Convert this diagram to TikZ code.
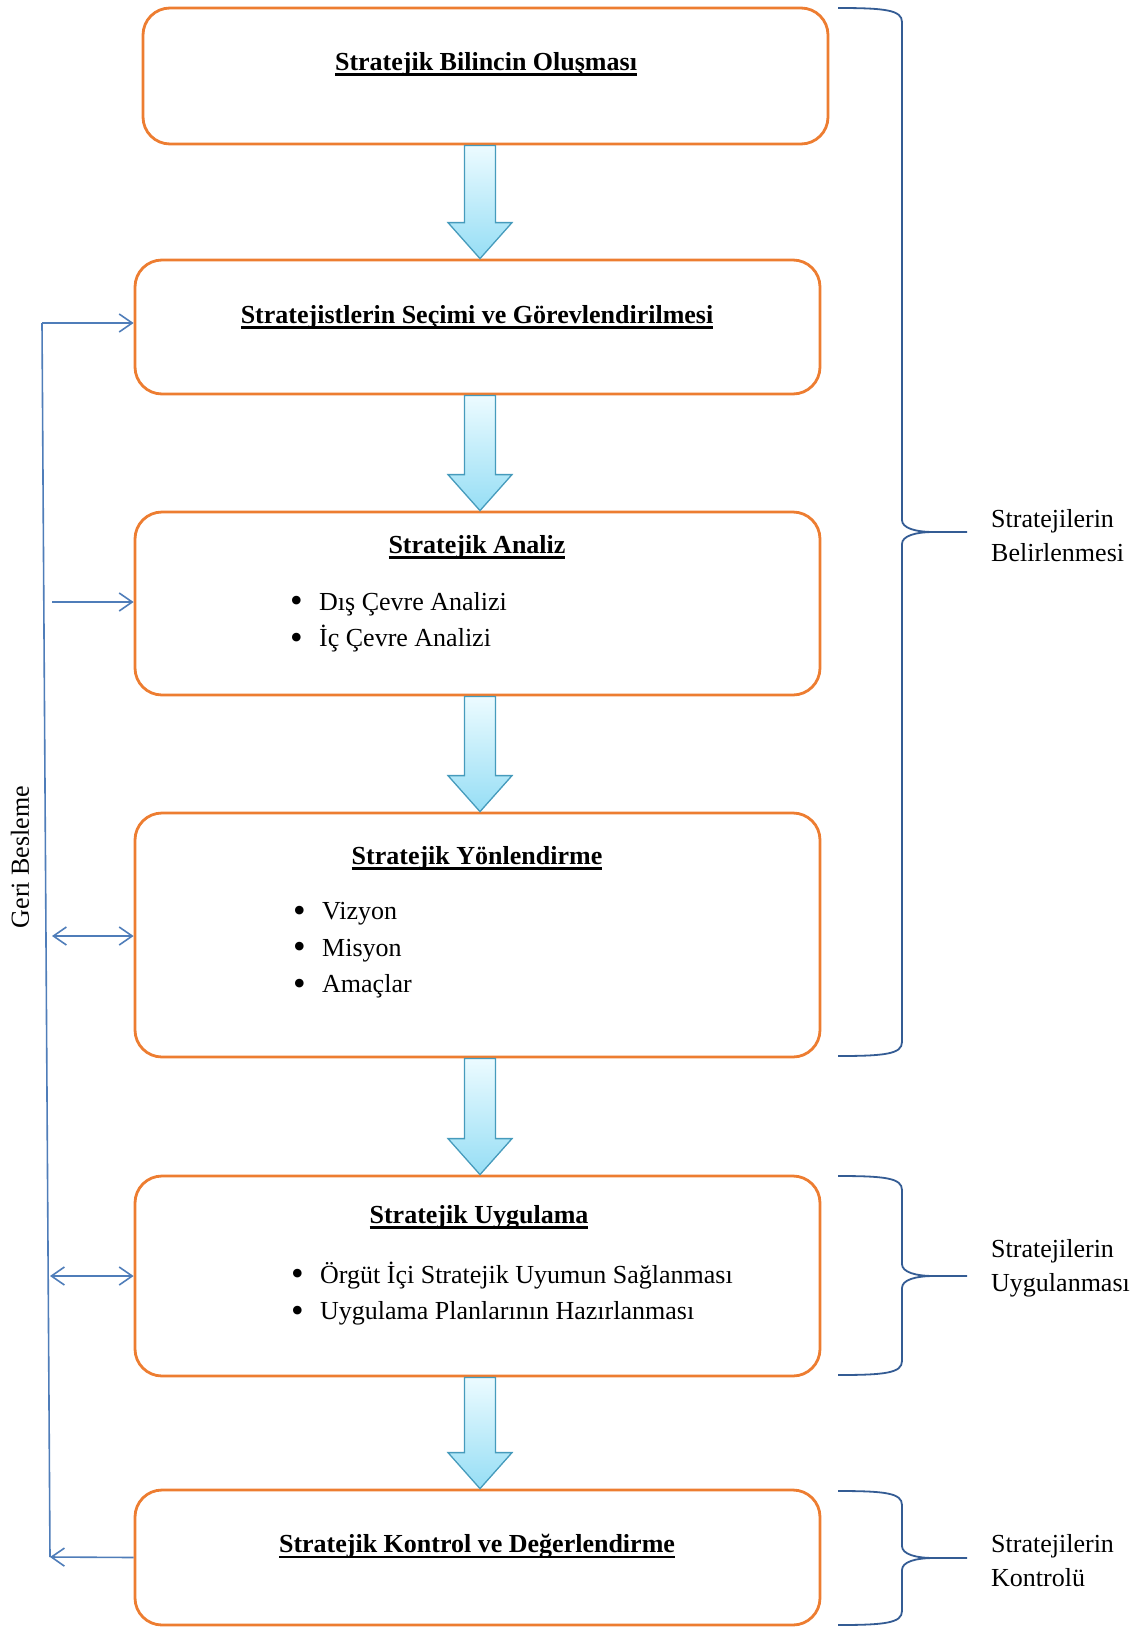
\documentclass[tikz,border=0pt]{standalone}
\usepackage{fontspec}
\setmainfont{Liberation Serif}
\usetikzlibrary{arrows.meta,calc}

\definecolor{boxorange}{RGB}{237,125,49}
\definecolor{fbblue}{RGB}{79,125,185}
\definecolor{brblue}{RGB}{52,92,148}
\definecolor{arrtop}{RGB}{236,251,255}
\definecolor{arrbot}{RGB}{150,222,245}
\definecolor{arredge}{RGB}{70,155,188}

% bold heading with a heavy underline
\newcommand\titleul[1]{\setbox0=\hbox{#1}\leavevmode\rlap{\rule[-6pt]{\wd0}{2.6pt}}\box0}
% one bullet line
\newcommand\bul[1]{\makebox[29pt][l]{\raisebox{-2.5pt}{\fontsize{36}{36}\selectfont•}}#1}

% block arrow between two stacked stages
\newcommand\flowarrow[2]{%
  \draw[flowarr] let \p1=(#1.south), \p2=(#2.north) in
    ({464.5pt},{\y1}) -- ({495.5pt},{\y1}) -- ({495.5pt},{\y2+36pt})
    -- ({512pt},{\y2+36pt}) -- ({480pt},{\y2}) -- ({448pt},{\y2+36pt})
    -- ({464.5pt},{\y2+36pt}) -- cycle;}

% right-hand curly brace: top, middle, bottom
\newcommand\sidebrace[3]{%
  \draw[brace] (838,#1) .. controls (885,#1) and (902,{#1+2}) .. (902,{#1+14})
    -- (902,{#2-12}) .. controls (902,{#2-4}) and (915,#2) .. (934,#2) -- (967,#2)
    (934,#2) .. controls (915,#2) and (902,{#2+4}) .. (902,{#2+12})
    -- (902,{#3-14}) .. controls (902,{#3-2}) and (885,#3) .. (838,#3);}

\begin{document}
\begin{tikzpicture}[x=1pt,y=-1pt,
  stage/.style={draw=boxorange,line width=2.8pt,rounded corners=27pt,fill=white,
    minimum width=685pt,inner sep=0pt},
  ttl/.style={font=\fontsize{26}{32}\selectfont\bfseries,inner sep=0pt},
  lst/.style={font=\fontsize{26}{36.5}\selectfont,align=left,anchor=west,inner sep=0pt},
  sidelabel/.style={font=\fontsize{26}{34}\selectfont,align=left,anchor=west,inner sep=0pt},
  flowarr/.style={draw=arredge,line width=1.3pt,top color=arrtop,bottom color=arrbot,line join=miter},
  fb/.style={draw=fbblue,line width=1.6pt},
  fbtip/.style={-{Straight Barb[length=13pt,width=18pt]}},
  fbboth/.style={{Straight Barb[length=13pt,width=18pt]}-{Straight Barb[length=13pt,width=18pt]}},
  brace/.style={draw=brblue,line width=1.8pt}]

\useasboundingbox (0,0) rectangle (1147,1628);

% stages
\node[stage,minimum height=136pt] (b1) at (485.5,76) {};
\node[stage,minimum height=134pt] (b2) at (477.5,327) {};
\node[stage,minimum height=183pt] (b3) at (477.5,603.5) {};
\node[stage,minimum height=244pt] (b4) at (477.5,935) {};
\node[stage,minimum height=200pt] (b5) at (477.5,1276) {};
\node[stage,minimum height=135pt] (b6) at (477.5,1557.5) {};

% headings
\node[ttl] (t1) at (486,64) {\titleul{Stratejik Bilincin Oluşması}};
\node[ttl] (t2) at (477,317) {\titleul{Stratejistlerin Seçimi ve Görevlendirilmesi}};
\node[ttl] (t3) at (477,547) {\titleul{Stratejik Analiz}};
\node[ttl] (t4) at (477,858) {\titleul{Stratejik Yönlendirme}};
\node[ttl] (t5) at (479,1217) {\titleul{Stratejik Uygulama}};
\node[ttl] (t6) at (477,1546) {\titleul{Stratejik Kontrol ve Değerlendirme}};

% bullet lists
\node[lst] (l3) at (290,622) {\bul{Dış Çevre Analizi}\\\bul{İç Çevre Analizi}};
\node[lst] (l4) at (293,950.5) {\bul{Vizyon}\\\bul{Misyon}\\\bul{Amaçlar}};
\node[lst] (l5) at (291,1293.5) {\bul{Örgüt İçi Stratejik Uyumun Sağlanması}\\\bul{Uygulama Planlarının Hazırlanması}};

% flow between stages
\flowarrow{b1}{b2}
\flowarrow{b2}{b3}
\flowarrow{b3}{b4}
\flowarrow{b4}{b5}
\flowarrow{b5}{b6}

% feedback loop on the left
\coordinate (fbtop) at (42,323);
\coordinate (fbbot) at (50,1557);
\coordinate (fa3) at (52,602);
\coordinate (fa4) at (52,936);
\coordinate (fa5) at (50,1276);
\draw[fb] (fbtop) -- (fbbot);
\draw[fb,fbtip] (fbtop) -- (fbtop -| b2.west);
\draw[fb,fbtip] (fa3) -- (fa3 -| b3.west);
\draw[fb,fbboth] (fa4) -- (fa4 -| b4.west);
\draw[fb,fbboth] (fa5) -- (fa5 -| b5.west);
\draw[fb,fbtip] (b6.west) -- (fbbot);
\node[rotate=90,font=\fontsize{26}{32}\selectfont,inner sep=0pt] (fbl) at (20,857) {Geri Besleme};

% phase braces and their labels
\sidebrace{8}{532}{1056}
\sidebrace{1176}{1276}{1375}
\sidebrace{1491}{1558}{1625}
\node[sidelabel] (s1) at (991,536) {Stratejilerin\\Belirlenmesi};
\node[sidelabel] (s2) at (991,1268) {Stratejilerin\\Uygulanması};
\node[sidelabel] (s3) at (991,1561) {Stratejilerin\\Kontrolü};

\end{tikzpicture}
\end{document}
